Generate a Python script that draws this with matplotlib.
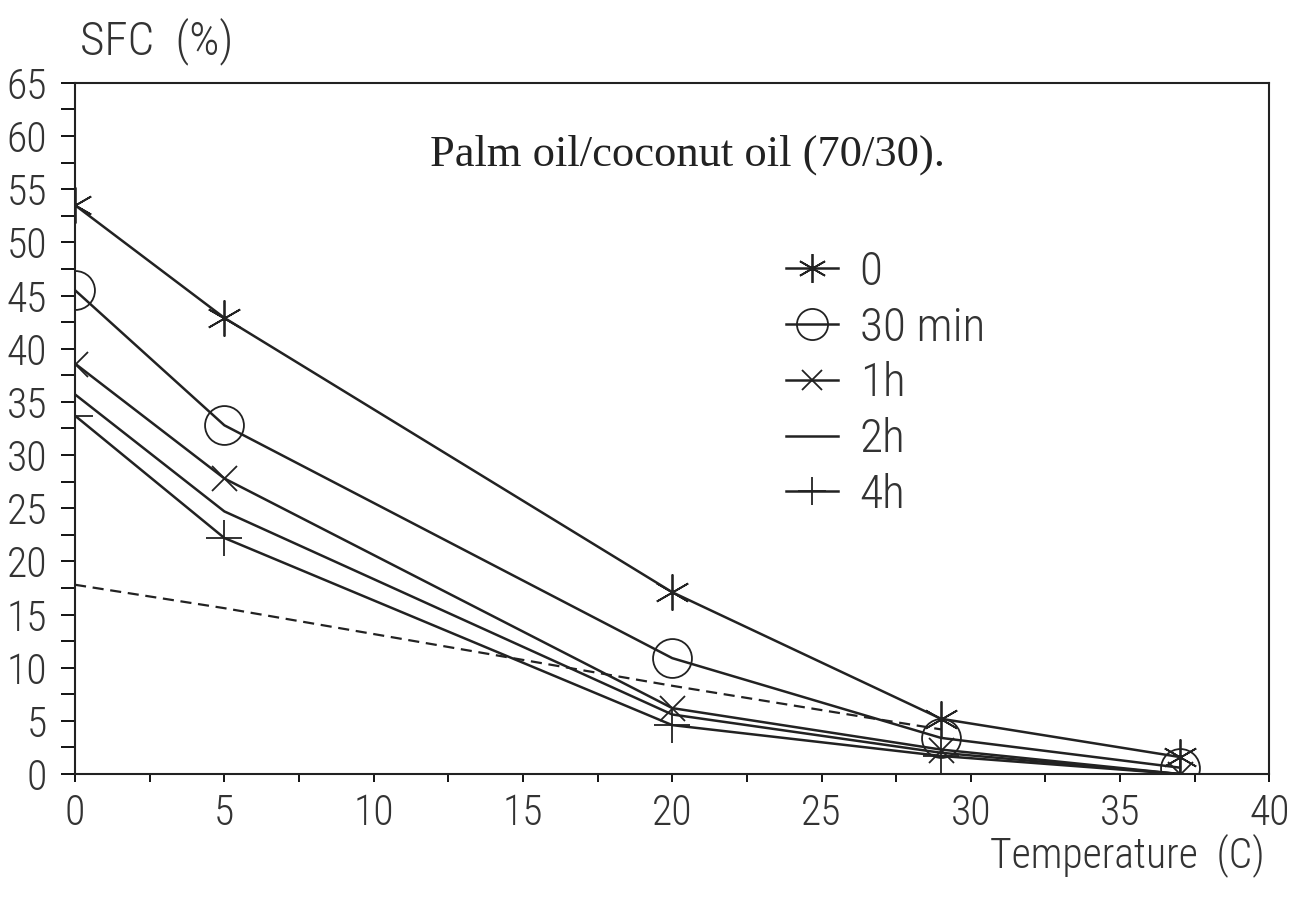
import matplotlib.pyplot as plt
from matplotlib.ticker import MultipleLocator

# temperature points (C)
temp = [0, 5, 20, 29, 37]

sfc_0 = [53.5, 42.9, 17.1, 5.2, 1.6]
sfc_30min = [45.5, 32.8, 10.9, 3.4, 0.6]
sfc_1h = [38.6, 27.8, 6.2, 2.3, 0.0]
sfc_2h = [35.7, 24.7, 5.6, 2.0, 0.0]
sfc_4h = [33.7, 22.2, 4.6, 1.7, 0.0]

# dashed curve with no markers
dash_temp = [0, 5, 20, 27, 29]
dash_sfc = [17.8, 15.6, 8.3, 5.1, 4.2]

narrow = ['Roboto Condensed', 'Liberation Sans Narrow', 'DejaVu Sans']
fnt = {'family': narrow, 'size': 30, 'weight': 'light', 'stretch': 'condensed'}
fnt_big = dict(fnt, size=34)

fig = plt.figure(figsize=(12.94, 9.07), dpi=100)
ax = fig.add_axes([0.058, 0.1466, 0.923, 0.762])

lw = 1.8
ax.plot(temp, sfc_0, color='#222222', lw=lw, marker=(6, 2, 0), ms=26, mew=1.3, label='0')
ax.plot(temp, sfc_30min, color='#222222', lw=lw, marker='o', ms=28, mfc='none', mew=1.3, label='30 min')
ax.plot(temp, sfc_1h, color='#222222', lw=lw, marker='x', ms=18, mew=1.3, label='1h')
ax.plot(temp, sfc_2h, color='#222222', lw=lw, label='2h')
ax.plot(temp, sfc_4h, color='#222222', lw=lw, marker='+', ms=26, mew=1.3, label='4h')
ax.plot(dash_temp, dash_sfc, color='#222222', lw=1.6, ls=(0, (5, 3)))

ax.set_xlim(0, 40)
ax.set_ylim(0, 65)
ax.xaxis.set_major_locator(MultipleLocator(5))
ax.xaxis.set_minor_locator(MultipleLocator(2.5))
ax.yaxis.set_major_locator(MultipleLocator(5))
ax.yaxis.set_minor_locator(MultipleLocator(2.5))

ax.tick_params(axis='y', which='both', direction='out', length=10, width=1.3, pad=10)
ax.tick_params(axis='x', which='major', direction='out', length=6, width=1.3, pad=8)
ax.tick_params(axis='x', which='minor', direction='out', length=6, width=1.3)
for lab in ax.get_xticklabels() + ax.get_yticklabels():
    lab.set_fontproperties(fnt)
    lab.set_color('#333333')

for s in ax.spines.values():
    s.set_color('#222222')
    s.set_linewidth(1.5)

ax.text(20.5, 58.2, 'Palm oil/coconut oil (70/30).', family=['Liberation Serif', 'DejaVu Serif'],
        fontsize=32, ha='center', va='center', color='#222222')

fig.text(0.062, 0.955, 'SFC  (%)', fontproperties=fnt_big, color='#333333', va='center')
fig.text(0.977, 0.057, 'Temperature  (C)', fontproperties=fnt, color='#333333', ha='right', va='center')

leg = ax.legend(loc='upper left', bbox_to_anchor=(0.56, 0.82), frameon=False,
                prop=fnt_big, handlelength=1.1, labelspacing=0.25, handletextpad=0.45,
                markerscale=0.8)
for t in leg.get_texts():
    t.set_color('#333333')

fig.savefig('out.png', dpi=100)
